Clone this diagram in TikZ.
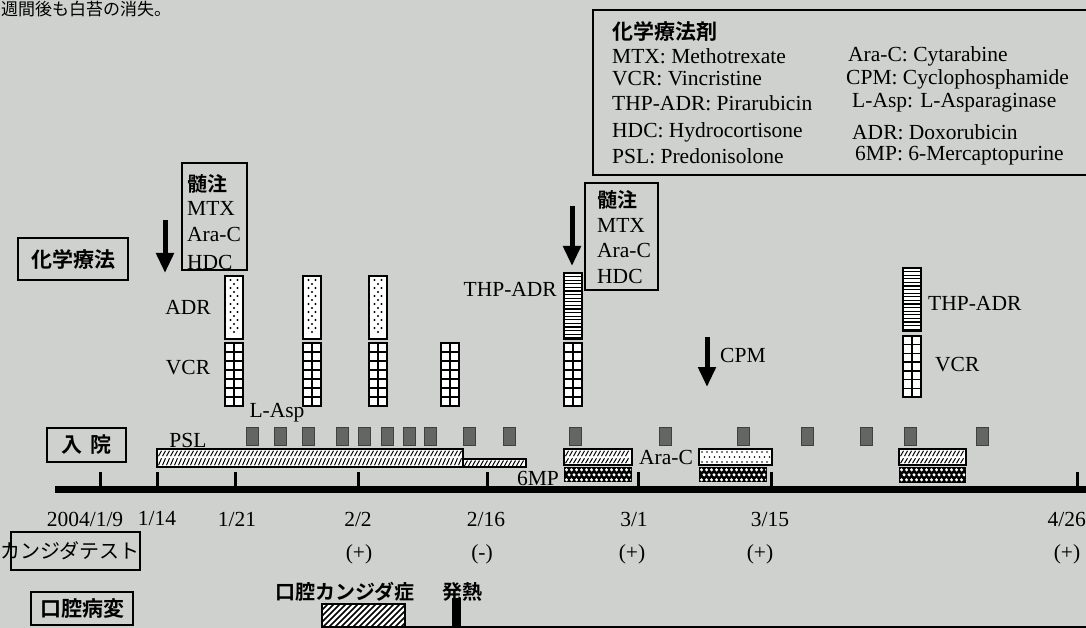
\documentclass[tikz,border=0pt]{standalone}
\usepackage{fontspec}
\setmainfont{Liberation Serif}
\newfontfamily\jp{Noto Sans CJK JP}
\newfontfamily\jpb{Noto Sans CJK JP Bold}
\usetikzlibrary{arrows.meta}
\definecolor{bgc}{RGB}{207,209,206}
\definecolor{sqc}{RGB}{100,102,100}

\newcommand\gridbar[3]{%
  \fill[white] ({#1-9},#2) rectangle ({#1+9},#3);
  \pgfmathsetmacro\gbh{(#3-#2)/7}%
  \foreach \k in {1,...,6}{\draw[line width=1.4] ({#1-9},{#2+\k*\gbh}) -- ({#1+9},{#2+\k*\gbh});}%
  \draw[line width=1.4] (#1,#2) -- (#1,#3);
  \draw[line width=2.4] ({#1-9},#2) rectangle ({#1+9},#3);
}
\newcommand\dotbar[3]{%
  \fill[white] ({#1-9},#2) rectangle ({#1+9},#3);
  \pgfmathtruncatemacro\dbn{(#3-#2-4)/4}%
  \foreach \k in {1,...,\dbn}{%
    \pgfmathsetmacro\dby{#2+\k*4}%
    \ifodd\k \fill ({#1-3.5},\dby) circle (1.2); \fill ({#1+3.5},\dby) circle (1.2);
    \else \fill (#1,\dby) circle (1.2); \fi
  }%
  \draw[line width=2.4] ({#1-9},#2) rectangle ({#1+9},#3);
}
\newcommand\linebar[3]{%
  \fill[white] ({#1-9},#2) rectangle ({#1+9},#3);
  \pgfmathtruncatemacro\lbn{(#3-#2-1)/3.6}%
  \foreach \k in {1,...,\lbn}{\draw[line width=1.1] ({#1-9},{#2+\k*3.6}) -- ({#1+9},{#2+\k*3.6});}%
  \draw[line width=2.4] ({#1-9},#2) rectangle ({#1+9},#3);
}
\newcommand\checkerblk[4]{%
  \fill[black] (#1,#2) rectangle (#3,#4);
  \begin{scope}
  \clip ({#1+1},{#2+1}) rectangle ({#3-1},{#4-1});
  \pgfmathtruncatemacro\ckn{(#3-#1)/5}%
  \foreach \i in {0,...,\ckn}{\foreach \j in {0,1,2}{%
    \pgfmathsetmacro\ckx{#1+2.5+\i*5+mod(\j,2)*2.5}%
    \fill[white] (\ckx,{#2+2.8+\j*5}) circle (1.7);}}
  \end{scope}
}
\newcommand\hatchrow[4]{%
  \pgfmathtruncatemacro\hrn{(#2-#1-5)/4}%
  \foreach \i in {0,...,\hrn}{\draw[line width=1] ({#1+1.5+\i*4},#4) -- ({#1+4.5+\i*4},#3);}%
}
\newcommand\hatchbar[4]{%
  \fill[white] (#1,#2) rectangle (#3,#4);
  \hatchrow{#1}{#3}{#2+1.8}{#2+7.2}%
  \hatchrow{#1}{#3}{#2+9.3}{#4-1.8}%
  \draw[line width=1.3] (#1,#2) rectangle (#3,#4);
}
\newcommand\dotblk[4]{%
  \fill[white] (#1,#2) rectangle (#3,#4);
  \pgfmathtruncatemacro\dkn{(#3-#1-4)/5}%
  \foreach \i in {0,...,\dkn}{\foreach \j in {0,1,2}{%
    \pgfmathsetmacro\dkx{#1+3+\i*5+mod(\j,2)*2.5}%
    \fill (\dkx,{#2+3+\j*5}) circle (0.85);}}
  \draw[line width=1.3] (#1,#2) rectangle (#3,#4);
}

\tikzset{
  lbl/.style={font=\fontsize{21.5}{24}\selectfont, inner sep=0pt},
  jlbl/.style={font=\jpb\fontsize{20}{24}\selectfont, inner sep=0pt},
  jbold/.style={font=\jpb\fontsize{21}{24}\selectfont, inner sep=0pt},
  rowbox/.style={draw, line width=1.5, inner sep=0pt, font=\jpb\fontsize{21}{24}\selectfont},
  darrow/.style={line width=5, -{Triangle[length=20pt,width=17pt]}},
  tick/.style={line width=3},
  sqbox/.style={fill=sqc, draw=black!75, line width=0.6},
}

\begin{document}
\begin{tikzpicture}[x=1pt,y=-1pt]
\useasboundingbox (0,0) rectangle (1086,628);
\fill[bgc] (0,0) rectangle (1086,628);

% caption at top
\node[font=\jp\fontsize{17}{20}\selectfont, inner sep=0pt, anchor=base west] (cap) at (1,16) {週間後も白苔の消失。};

% legend
\draw[line width=1.4] (593,10) rectangle (1092,175);
\node[jbold, anchor=west] (lgt) at (612,32) {化学療法剤};
\node[lbl, anchor=west] (l1) at (612,56) {MTX: Methotrexate};
\node[lbl, anchor=west] (l2) at (612,79) {VCR: Vincristine};
\node[lbl, anchor=west] (l3) at (612,103) {THP-ADR: Pirarubicin};
\node[lbl, anchor=west] (l4) at (612,132) {HDC: Hydrocortisone};
\node[lbl, anchor=west] (l5) at (612,156) {PSL: Predonisolone};
\node[lbl, anchor=west] (r1) at (848,56) {Ara-C: Cytarabine};
\node[lbl, anchor=west] (r2) at (846,79) {CPM: Cyclophosphamide};
\node[lbl, anchor=west] (r3) at (852,103) {L-Asp: L-Asparaginase};
\node[lbl, anchor=west] (r4) at (852,132) {ADR: Doxorubicin};
\node[lbl, anchor=west] (r5) at (855,156) {6MP: 6-Mercaptopurine};

% row label boxes
\node[rowbox, minimum width=110, minimum height=42] (chem) at (73,259) {化学療法};
\node[rowbox, minimum width=79, minimum height=34] (adm) at (86.5,445) {入\hspace{9pt}院};
\draw[line width=1.5] (11,532) rectangle (140,570);
\node[font=\jp\fontsize{20}{24}\selectfont, inner sep=0pt] (cand) at (70,551) {カンジダテスト};
\node[rowbox, minimum width=102, minimum height=33] (oral) at (82,608.5) {口腔病変};

% intrathecal boxes
\node[jbold, font=\jpb\fontsize{20}{24}\selectfont, anchor=west] (it1a) at (187,184) {髄注};
\node[lbl, anchor=west] (it1b) at (187,208) {MTX};
\node[lbl, anchor=west] (it1c) at (187,234) {Ara-C};
\node[lbl, anchor=west] (it1d) at (187,262) {HDC};
\draw[line width=1.4] (182,163) rectangle (247,270);
\node[jbold, font=\jpb\fontsize{20}{24}\selectfont, anchor=west] (it2a) at (597,200) {髄注};
\node[lbl, anchor=west] (it2b) at (597,225) {MTX};
\node[lbl, anchor=west] (it2c) at (597,250) {Ara-C};
\node[lbl, anchor=west] (it2d) at (597,276) {HDC};
\draw[line width=1.4] (585,183) rectangle (658,290);

% arrows
\coordinate (a1s) at (165,220); \coordinate (a1e) at (165,273);
\draw[darrow] (a1s) -- (a1e);
\coordinate (a2s) at (572,206); \coordinate (a2e) at (572,266);
\draw[darrow] (a2s) -- (a2e);
\coordinate (a3s) at (707,337); \coordinate (a3e) at (707,387);
\draw[darrow] (a3s) -- (a3e);
\node[lbl, anchor=west] (cpm) at (720,355) {CPM};

% drug bars
\dotbar{234}{276}{339}
\dotbar{312}{276}{339}
\dotbar{378}{276}{339}
\gridbar{234}{343}{406}
\gridbar{312}{343}{406}
\gridbar{378}{343}{406}
\gridbar{450}{343}{406}
\linebar{573}{273}{339}
\gridbar{573}{343}{406}
\linebar{912}{268}{331}
\gridbar{912}{336}{397}

\node[lbl] (adrl) at (188,307) {ADR};
\node[lbl] (vcrl) at (188,368) {VCR};
\node[lbl, anchor=east] (thp1) at (557,289) {THP-ADR};
\node[lbl, anchor=west] (thp2) at (928,303) {THP-ADR};
\node[lbl, anchor=west] (vcr2) at (935,365) {VCR};
\node[lbl] (lasp) at (277,413) {L-Asp};
\node[lbl] (psl) at (188,440) {PSL};

% L-Asp squares
\foreach \sx in {252,280,308,342,364,387,409,430,469,509,575,665,743,807,866,910,982}{
  \draw[sqbox] ({\sx-6},427) rectangle ({\sx+6},445);
}

% PSL / 6MP / Ara-C blocks
\hatchbar{157}{449}{463}{467}
\fill[white] (463,459) rectangle (526,467);
\hatchrow{463}{526}{460.5}{465.8}
\draw[line width=1.2] (463,459) rectangle (526,467);
\hatchbar{564}{449}{632}{465}
\checkerblk{564}{467}{632}{482}
\dotblk{699}{449}{772}{465}
\checkerblk{699}{467}{767}{482}
\hatchbar{899}{449}{966}{465}
\checkerblk{899}{467}{966}{483}
\node[lbl] (mp6) at (538,478) {6MP};
\node[lbl] (arac) at (666,457) {Ara-C};

% time axis
\coordinate (ax0) at (55,489); \coordinate (ax1) at (1090,489);
\draw[line width=7] (ax0) -- (ax1);
\foreach \tx in {100,157,235,358,487,638,771,1077}{
  \draw[tick] (\tx,472) -- (\tx,489);
}
\node[lbl] (d0) at (85,519) {2004/1/9};
\node[lbl] (d1) at (157,519) {1/14};
\node[lbl] (d2) at (237,519) {1/21};
\node[lbl] (d3) at (358,519) {2/2};
\node[lbl] (d4) at (486,519) {2/16};
\node[lbl] (d5) at (634,519) {3/1};
\node[lbl] (d6) at (770,519) {3/15};
\node[lbl, anchor=east] (d7) at (1086,519) {4/26};

\node[lbl] (c1) at (359,554) {(+)};
\node[lbl] (c2) at (482,554) {(-)};
\node[lbl] (c3) at (632,554) {(+)};
\node[lbl] (c4) at (760,554) {(+)};
\node[lbl] (c5) at (1067,554) {(+)};

% oral lesions
\node[jlbl] (oc) at (345,592) {口腔カンジダ症};
\node[jlbl] (fev) at (462,592) {発熱};
\fill[white] (322,604) rectangle (405,635);
\begin{scope}
  \clip (322,604) rectangle (405,635);
  \foreach \i in {0,...,22}{\draw[line width=1.6] ({280+\i*6},640) -- ({316+\i*6},604);}
\end{scope}
\draw[line width=1.4] (322,604) rectangle (405,635);
\fill (452,598) rectangle (461,635);
\coordinate (bl0) at (322,627); \coordinate (bl1) at (1090,627);
\draw[line width=2.5] (bl0) -- (bl1);
\end{tikzpicture}
\end{document}
